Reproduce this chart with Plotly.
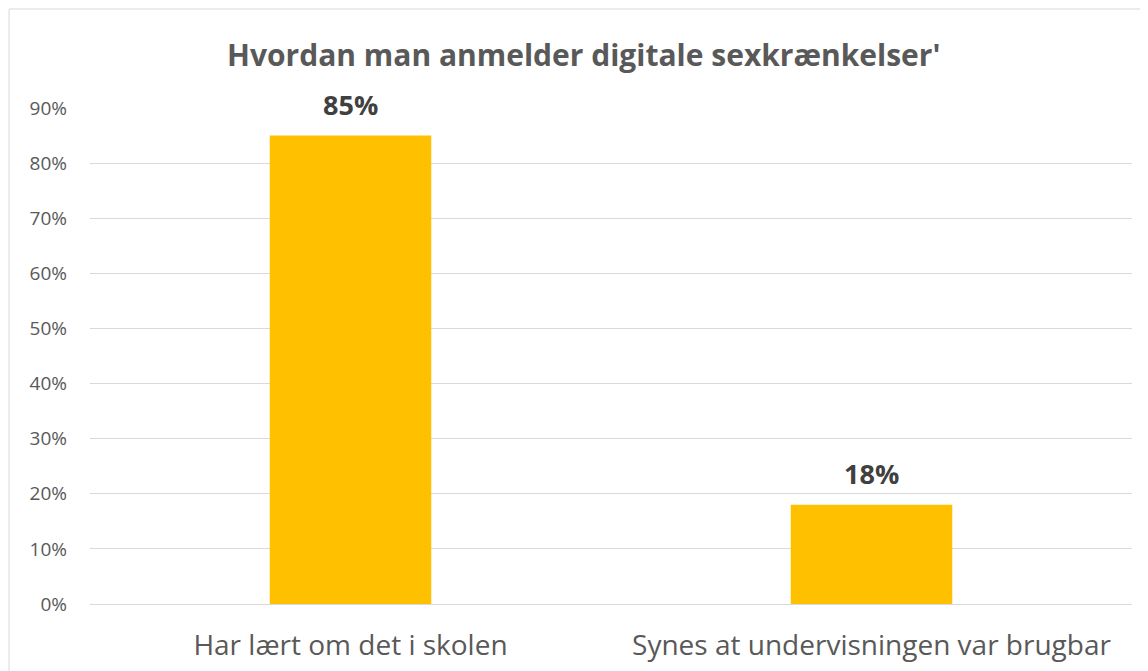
import plotly.graph_objects as go

# data
categorias = ["Har lært om det i skolen", "Synes at undervisningen var brugbar"]
andele = [0.85, 0.18]
etiketter = ["85%", "18%"]

titel = "Hvordan man anmelder digitale sexkrænkelser'"

fig = go.Figure()
fig.add_trace(
    go.Bar(
        x=categorias,
        y=andele,
        marker=dict(color="#FFC000", line=dict(width=0)),
        width=0.31,
        hoverinfo="skip",
    )
)

# value labels above bars
for c, v, t in zip(categorias, andele, etiketter):
    fig.add_annotation(
        x=c, y=v, text="<b>" + t + "</b>",
        showarrow=False, yanchor="bottom", yshift=11,
        font=dict(size=27, color="#404040", family="Open Sans"),
    )

# page body adds 8px margin -> figure is 8px smaller
fig.update_layout(
    width=1140,
    height=663,
    margin=dict(l=82, r=16, t=100, b=67, autoexpand=False),
    paper_bgcolor="white",
    plot_bgcolor="white",
    showlegend=False,
    font=dict(family="Open Sans", color="#595959"),
    title=dict(
        text="<b>" + titel + "</b>",
        x=0.505,
        xanchor="center",
        y=1 - 47 / 663,
        yanchor="middle",
        font=dict(size=30, color="#595959", family="Open Sans"),
    ),
    xaxis=dict(
        showgrid=False,
        showline=False,
        ticks="",
        automargin=False,
        tickfont=dict(size=28, color="#595959"),
        ticklabelstandoff=22,
    ),
    yaxis=dict(
        range=[0, 0.9],
        dtick=0.1,
        tickformat=".0%",
        showgrid=True,
        gridcolor="#d9d9d9",
        gridwidth=1,
        zeroline=True,
        zerolinecolor="#d9d9d9",
        zerolinewidth=1,
        showline=False,
        ticks="",
        automargin=False,
        tickfont=dict(size=19, color="#595959"),
        ticklabelstandoff=22,
    ),
    shapes=[
        dict(
            type="rect",
            xref="paper",
            yref="paper",
            x0=-0.0777,
            x1=1.2,
            y0=-0.3,
            y1=1.1996,
            line=dict(color="#d9d9d9", width=1),
            fillcolor="rgba(0,0,0,0)",
            layer="below",
        )
    ],
)

fig.write_html("out.html")
